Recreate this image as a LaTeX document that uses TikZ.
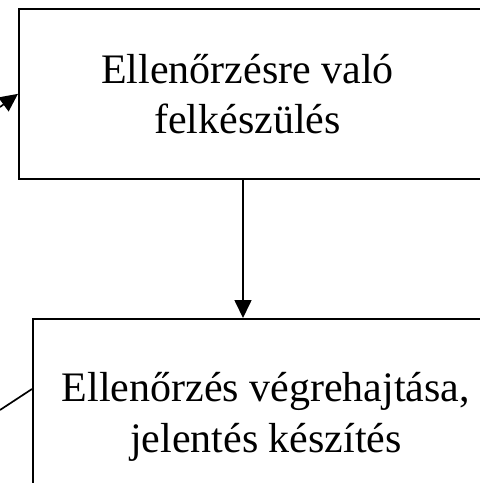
\documentclass[tikz,border=0pt]{standalone}
\usepackage{fontspec}
\setmainfont{Liberation Serif}
\usetikzlibrary{
  arrows.meta,
  positioning,
}
\tikzset{
  stepbox/.style={draw, line width=1.7pt, rectangle, anchor=north west},
  boxtext/.style={align=center, font=\fontsize{42}{50.5}\selectfont, inner sep=0pt},
  flow/.style={line width=1.7pt, -{Triangle[length=18pt,width=17pt]}},
}

\begin{document}
\begin{tikzpicture}[x=1pt,y=1pt]
\useasboundingbox (0,0) rectangle (480,-483);
\clip (0,0) rectangle (480,-483);
% boxes
\node[stepbox, minimum width=520pt, minimum height=170pt] (prep) at (18,-8) {};
\node[stepbox, minimum width=520pt, minimum height=200pt] (exec) at (32,-318) {};
\node[boxtext] (preptext) at ([xshift=229.5pt]prep.west) {Ellenőrzésre való\\felkészülés};
\node[boxtext] (exectext) at (266,-417) {Ellenőrzés végrehajtása,\\jelentés készítés};
% connectors
\coordinate (ax) at (243,0);
\coordinate (in1) at (0,-107);
\coordinate (out2) at (0,-410);
\draw[flow] (prep.south -| ax) -- (exec.north -| ax);
\draw[flow] (in1) -- (prep.west);
\draw[line width=1.7pt] ([yshift=-71pt]exec.north west) -- (out2);
\end{tikzpicture}
\end{document}
